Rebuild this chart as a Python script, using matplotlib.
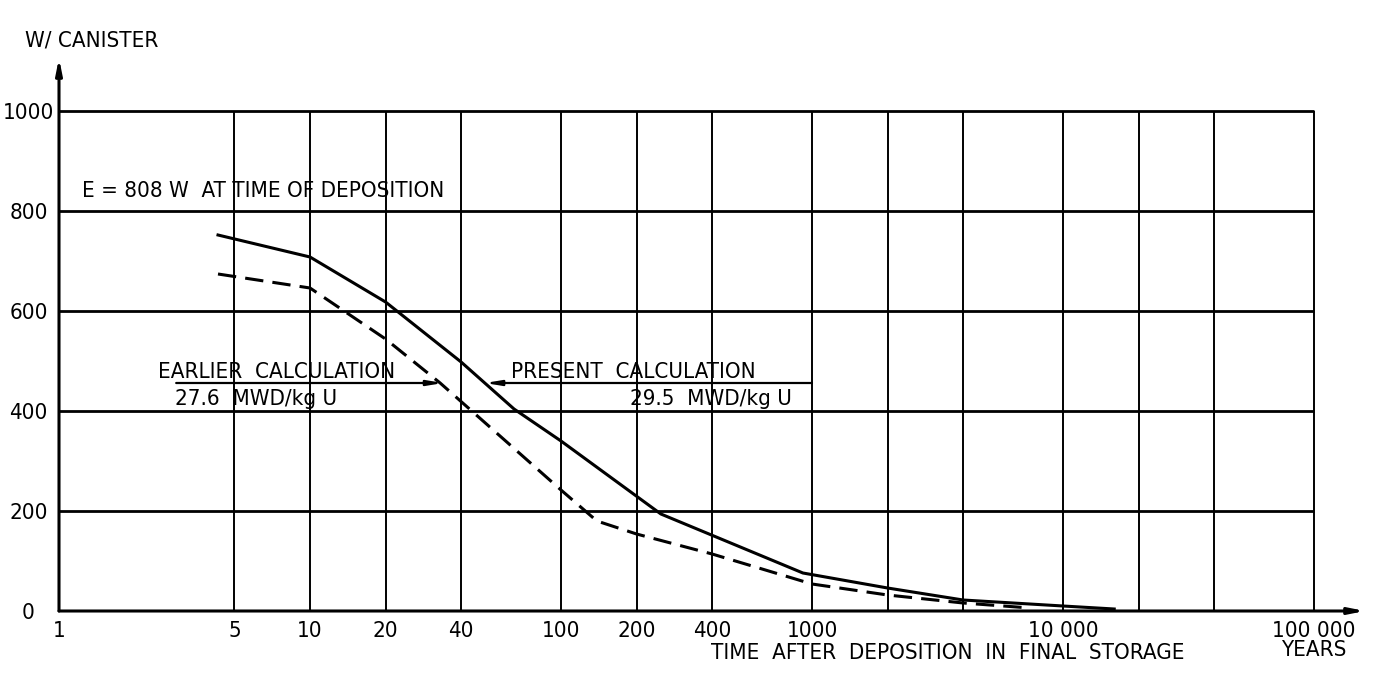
import matplotlib
matplotlib.use("Agg")
import matplotlib.pyplot as plt
from matplotlib import font_manager

# ---------------- data ----------------
present_years = [4.3, 10, 20, 40, 65, 100, 250, 920, 2000, 4000, 10000, 16000]
present_watts = [752, 708, 618, 498, 404, 340, 194, 76, 46, 22, 10, 4]

earlier_years = [4.3, 10, 20, 33, 100, 139, 200, 400, 1000, 2000, 4000, 7400]
earlier_watts = [674, 646, 544, 456, 242, 180, 154, 114, 54, 32, 16, 6]

x_grid = [5, 10, 20, 40, 100, 200, 400, 1000, 2000, 4000, 10000, 20000, 40000, 100000]
y_grid = [200, 400, 600, 800, 1000]

x_tick_values = [1, 5, 10, 20, 40, 100, 200, 400, 1000, 10000, 100000]
x_tick_labels = ["1", "5", "10", "20", "40", "100", "200", "400", "1000", "10 000", "100 000"]
y_tick_values = [0, 200, 400, 600, 800, 1000]
y_tick_labels = ["0", "200", "400", "600", "800", "1000"]

# ---------------- fonts ----------------
condensed = [f.fname for f in font_manager.fontManager.ttflist
             if f.fname.endswith("DejaVuSansCondensed.ttf")]
if condensed:
    FP = dict(fontproperties=font_manager.FontProperties(fname=condensed[0], size=16))
else:
    FP = dict(fontproperties=font_manager.FontProperties(
        family=["Liberation Sans", "DejaVu Sans"], size=15))

W, H = 1375, 673
fig = plt.figure(figsize=(W / 100, H / 100), dpi=100)
ax = fig.add_axes([59 / W, (H - 611) / H, (1365 - 59) / W, (611 - 58) / H])
ax.set_xscale("log")
ax.set_xlim(1, 10 ** ((1365 - 59) / 251.0))
ax.set_ylim(0, 1106)

for s in ax.spines.values():
    s.set_visible(False)

# grid
ax.hlines(y_grid, 1, x_grid[-1], colors="black", lw=2.0, zorder=1)
ax.vlines(x_grid, 0, y_grid[-1], colors="black", lw=1.4, zorder=1)

# axes with arrows
ax.annotate("", xy=(1, 0), xytext=(0, 0), xycoords="axes fraction",
            arrowprops=dict(arrowstyle="-|>,head_length=0.9,head_width=0.18",
                            lw=2.2, color="black", shrinkA=0, shrinkB=0), zorder=3)
ax.annotate("", xy=(0, 1), xytext=(0, 0), xycoords="axes fraction",
            arrowprops=dict(arrowstyle="-|>,head_length=0.9,head_width=0.18",
                            lw=2.2, color="black", shrinkA=0, shrinkB=0), zorder=3)

# curves
ax.plot(present_years, present_watts, color="black", lw=2.2, zorder=4,
        solid_joinstyle="miter")
ax.plot(earlier_years, earlier_watts, color="black", lw=2.2, zorder=4,
        linestyle=(0, (6, 3)))

# ticks
ax.set_xticks(x_tick_values)
ax.set_xticklabels(x_tick_labels, **FP)
ax.set_yticks(y_tick_values)
ax.set_yticklabels(y_tick_labels, **FP)
ax.minorticks_off()
ax.tick_params(axis="both", length=0)
ax.tick_params(axis="x", pad=7)
ax.tick_params(axis="y", pad=22)
for lab in ax.get_yticklabels():
    lab.set_horizontalalignment("center")

# annotations
ax.text(1.24, 840, "E = 808 W  AT TIME OF DEPOSITION", ha="left", va="center", **FP)
ax.text(2.48, 478, "EARLIER  CALCULATION", ha="left", va="center", **FP)
ax.text(2.90, 424, "27.6  MWD/kg U", ha="left", va="center", **FP)
ax.text(63.2, 478, "PRESENT  CALCULATION", ha="left", va="center", **FP)
ax.text(832, 424, "29.5  MWD/kg U", ha="right", va="center", **FP)

arrow_style = dict(arrowstyle="-|>,head_length=0.9,head_width=0.15", lw=1.6,
                   color="black", shrinkA=0, shrinkB=0)
ax.annotate("", xy=(33.9, 456), xytext=(2.93, 456), arrowprops=arrow_style, zorder=5)
ax.annotate("", xy=(49.8, 456), xytext=(1000, 456), arrowprops=arrow_style, zorder=5)

fig.text(25 / W, 1 - 40 / H, "W/ CANISTER", ha="left", va="center", **FP)
fig.text(948 / W, 1 - 653 / H, "TIME  AFTER  DEPOSITION  IN  FINAL  STORAGE",
         ha="center", va="center", **FP)
fig.text(1314 / W, 1 - 650 / H, "YEARS", ha="center", va="center", **FP)

fig.savefig("out.png", dpi=100, facecolor="white")
